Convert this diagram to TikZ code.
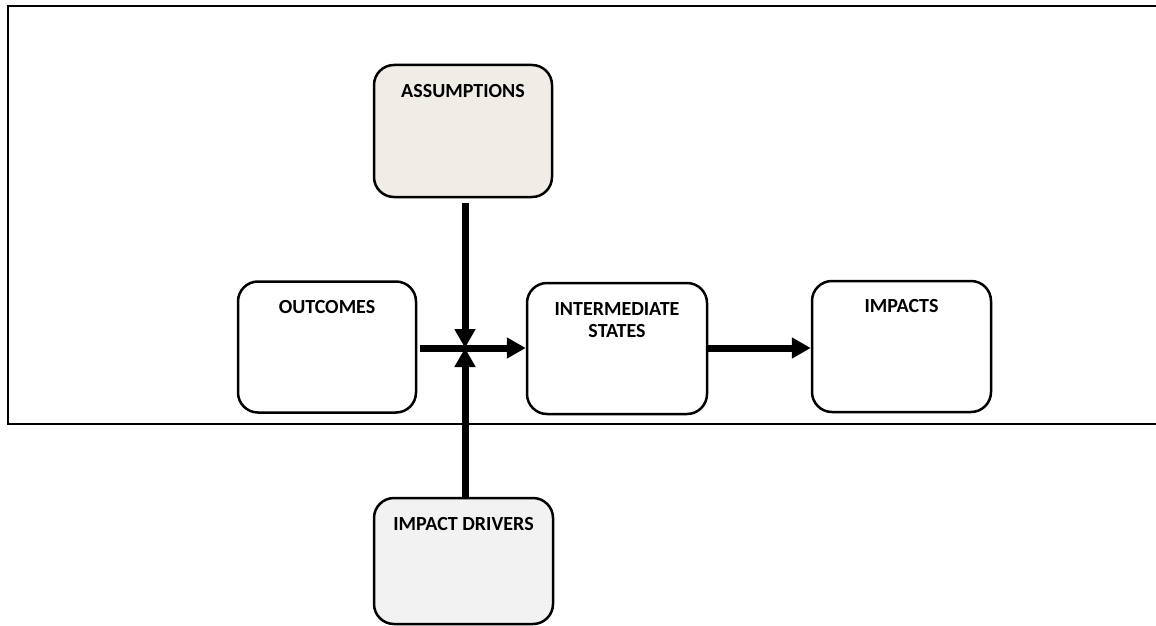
\documentclass[tikz,border=0pt]{standalone}
\usepackage{fontspec}
\setmainfont{Carlito}
\usetikzlibrary{arrows.meta}
\definecolor{asmfill}{HTML}{EFEDE6}
\definecolor{drvfill}{HTML}{F2F2F2}
\tikzset{
  boxshape/.style={draw=black, line width=2.5pt, rounded corners=20pt, fill=white, inner sep=0pt},
  boxtext/.style={anchor=base, align=center, font=\fontsize{20}{22}\selectfont\bfseries, inner sep=0pt},
  arr/.style={line width=7pt, -{Triangle[length=19pt,width=20pt]}},
  frameline/.style={line width=2pt}
}
\begin{document}
\begin{tikzpicture}[x=1pt,y=-1pt]
\useasboundingbox (0,0) rectangle (1156,626);
% frame
\draw[frameline] (1156,6) -- (8,6) -- (8,424) -- (1156,424);
% boxes
\node[boxshape, fill=asmfill, minimum width=178pt, minimum height=132pt] (asm) at (463,131) {};
\node[boxshape, minimum width=178pt, minimum height=131pt] (out) at (327,347) {};
\node[boxshape, minimum width=180pt, minimum height=131pt] (inter) at (617,348.5) {};
\node[boxshape, minimum width=179pt, minimum height=131pt] (imp) at (901.5,346.5) {};
\node[boxshape, fill=drvfill, minimum width=179pt, minimum height=126pt] (drv) at (463.5,561) {};
% texts
\node[boxtext] (asmT) at ([yshift=-33.5pt]asm.north) {ASSUMPTIONS};
\node[boxtext] (outT) at ([yshift=-33pt]out.north) {OUTCOMES};
\node[boxtext] (interT) at ([yshift=-55.5pt]inter.north) {INTERMEDIATE\\STATES};
\node[boxtext] (impT) at ([yshift=-33pt]imp.north) {IMPACTS};
\node[boxtext] (drvT) at ([yshift=-33.5pt]drv.north) {IMPACT DRIVERS};
% junction
\coordinate (J) at (465,348);
% arrows
\draw[arr, shorten <=5pt] (asm.south -| J) -- (J);
\draw[arr] (drv.north -| J) -- (J);
\draw[arr, shorten <=3pt] (out.east |- J) -- (inter.west |- J);
\draw[arr] (inter.east |- J) -- (imp.west |- J);
\end{tikzpicture}
\end{document}
